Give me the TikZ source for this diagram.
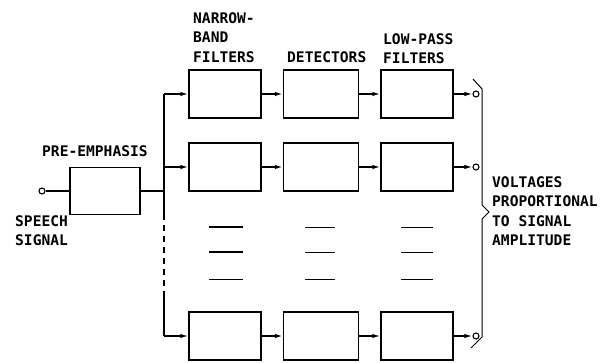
\documentclass[tikz,border=0pt]{standalone}
\usepackage{fontspec}
\newfontfamily\letterfont{DejaVu Sans Mono}
\usetikzlibrary{arrows.meta}

\begin{document}
\begin{tikzpicture}[
  x=1pt, y=-1pt,
  block/.style = {rectangle, draw, line width=1.4pt, minimum width=72pt,
                  minimum height=48pt, inner sep=0pt},
  flow/.style  = {-{Latex[length=8pt,width=4.5pt]}, line width=1.4pt},
  wire/.style  = {line width=1.4pt},
  term/.style  = {circle, draw, line width=1.1pt, minimum size=6pt,
                  inner sep=0pt, fill=white},
  lab/.style   = {font=\letterfont\bfseries\fontsize{14.6}{19.5}\selectfont,
                  align=left, anchor=north west, inner sep=0pt},
  gap/.style   = {line width=1pt},
]
\useasboundingbox (0,0) rectangle (607,362);
% input stage
\node[term] (inp) at (42,191) {};
\node[block, minimum width=70pt, minimum height=47pt] (pre) at (105,191) {};
\node[lab] (prelab) at (42,145) {PRE-EMPHASIS};
\node[lab] (speechlab) at (15,215) {SPEECH\\SIGNAL};
% filter bank
\node[block] (nbf1) at (225,94) {};
\node[block, minimum width=75pt] (det1) at (321,94) {};
\node[block] (lpf1) at (417,94) {};
\node[term] (out1) at (476,94) {};
\node[block] (nbf2) at (225,167) {};
\node[block, minimum width=75pt] (det2) at (321,167) {};
\node[block] (lpf2) at (417,167) {};
\node[term] (out2) at (476,167) {};
\node[block] (nbfn) at (225,336) {};
\node[block, minimum width=75pt] (detn) at (321,336) {};
\node[block] (lpfn) at (417,336) {};
\node[term] (outn) at (476,336) {};
% column headings
\node[lab] (nbflab) at (193,12) {NARROW-\\BAND\\FILTERS};
\node[lab] (detlab) at (287,51) {DETECTORS};
\node[lab] (lpflab) at (383,33) {LOW-PASS\\FILTERS};
\node[lab] (voltlab) at (492,176) {VOLTAGES\\PROPORTIONAL\\TO SIGNAL\\AMPLITUDE};
% distribution bus
\coordinate (bus1) at (164,94);
\coordinate (bus2) at (164,167);
\coordinate (busin) at (164,191);
\coordinate (dash0) at (164,214);
\coordinate (dash1) at (164,292);
\coordinate (busn) at (164,336);
\draw[wire] (bus1) -- (dash0);
\draw[wire, dash pattern=on 6pt off 5pt] (dash0) -- (dash1);
\draw[wire] (dash1) -- (busn);
\draw[wire] (inp) -- (pre);
\draw[wire] (pre) -- (busin);
\draw[flow] (bus1) -- (nbf1);
\draw[flow] (bus2) -- (nbf2);
\draw[flow] (busn) -- (nbfn);
\draw[flow] (nbf1) -- (det1);
\draw[flow] (det1) -- (lpf1);
\draw[flow] (lpf1) -- (out1);
\draw[flow] (nbf2) -- (det2);
\draw[flow] (det2) -- (lpf2);
\draw[flow] (lpf2) -- (out2);
\draw[flow] (nbfn) -- (detn);
\draw[flow] (detn) -- (lpfn);
\draw[flow] (lpfn) -- (outn);
% omitted rows
\draw[gap, line width=1.6pt] (209,227) -- (243,227);
\draw[gap, line width=1.6pt] (209,252) -- (243,252);
\draw[gap] (209,279) -- (243,279);
\draw[gap] (305,227) -- (335,227);
\draw[gap] (305,252) -- (335,252);
\draw[gap] (305,279) -- (335,279);
\draw[gap] (401,227) -- (433,227);
\draw[gap] (401,252) -- (433,252);
\draw[gap] (401,279) -- (433,279);
% output brace
\draw[line width=1pt] (473,79) -- (482,89) -- (482,205) -- (489,212)
  -- (482,219) -- (482,337) -- (471,348);
\end{tikzpicture}
\end{document}
